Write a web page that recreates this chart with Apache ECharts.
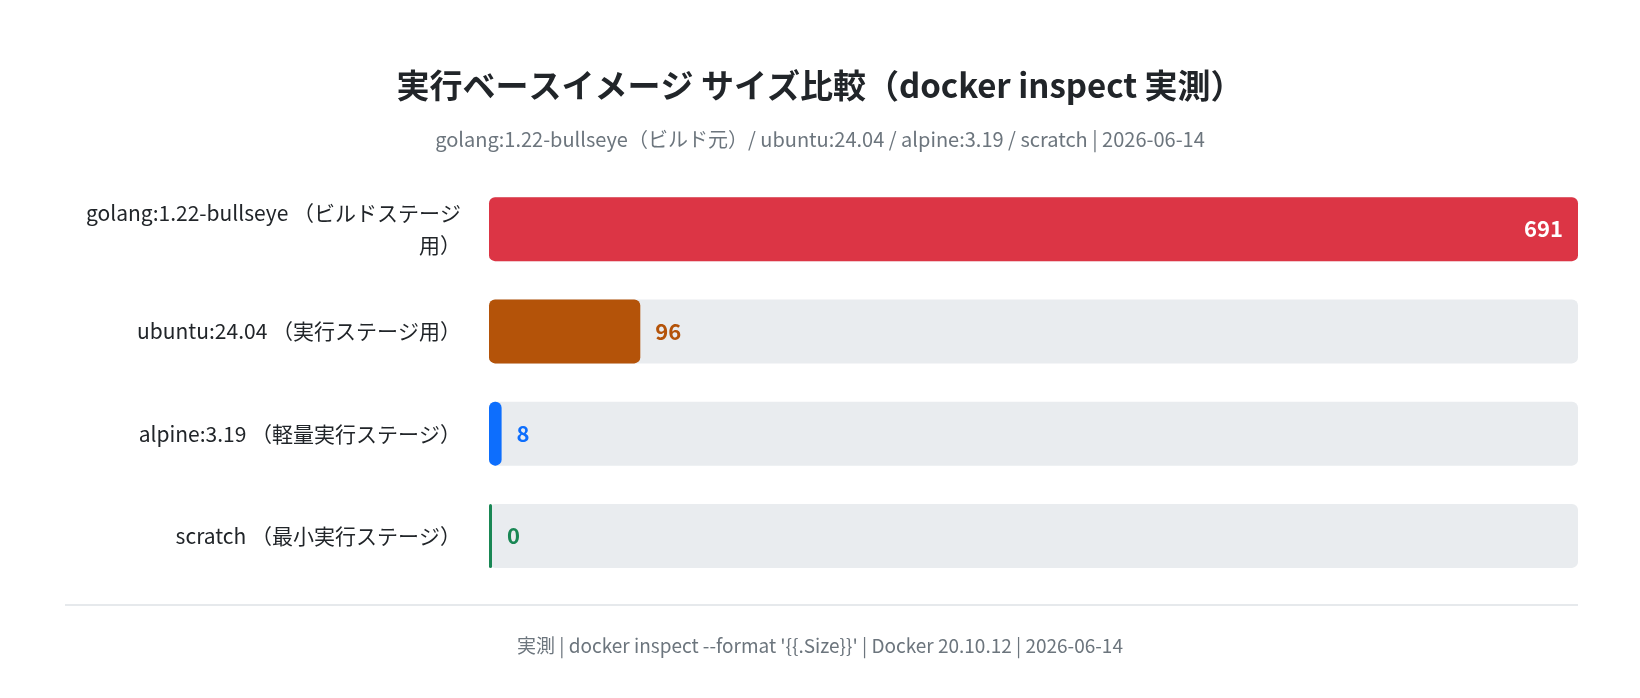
<!DOCTYPE html>
<html><head><meta charset="utf-8">
<script src="https://cdn.jsdelivr.net/npm/echarts@6/dist/echarts.min.js"></script>
<style>html,body{margin:0;background:#fff}#c{width:1640px;height:698px}</style>
</head><body><div id="c"></div>
<script>
const categories = ["golang:1.22-bullseye （ビルドステージ用）","ubuntu:24.04 （実行ステージ用）","alpine:3.19 （軽量実行ステージ）","scratch （最小実行ステージ）"];
const sizes = [691, 96, 8, 0];
const colors = ["#dc3545","#b45309","#0d6efd","#198754"];
const F = '"Noto Sans CJK JP","Noto Sans",sans-serif';
const chart = echarts.init(document.getElementById('c'));
chart.setOption({
  animation:false,
  title:[{text:"実行ベースイメージ サイズ比較（docker inspect 実測）",left:'center',top:64,textStyle:{fontFamily:F,fontSize:33,fontWeight:'bold',color:'#212529'}},
    {text:"golang:1.22-bullseye（ビルド元）/ ubuntu:24.04 / alpine:3.19 / scratch | 2026-06-14",left:'center',top:124,textStyle:{fontFamily:F,fontSize:20,fontWeight:'normal',color:'#6c757d'}},
    {text:"実測 | docker inspect --format '{{.Size}}' | Docker 20.10.12 | 2026-06-14",left:'center',top:631,textStyle:{fontFamily:F,fontSize:19,fontWeight:'normal',color:'#6c757d'}}],
  graphic:[{type:'line',shape:{x1:65,y1:605,x2:1578,y2:605},style:{stroke:'#dee2e6',lineWidth:1.5}}],
  grid:{left:489,right:62,top:178,height:409},
  xAxis:{type:'value',min:0,max:691,show:false},
  yAxis:{type:'category',inverse:true,data:categories,axisLine:{show:false},axisTick:{show:false},
    axisLabel:{margin:28,width:385,overflow:'break',fontFamily:F,fontSize:21,color:'#212529',lineHeight:32,align:'right'}},
  series:[{type:'bar',barWidth:64,barMinHeight:3,showBackground:true,
    backgroundStyle:{color:'#e9ecef',borderRadius:6},
    data:sizes.map((v,i)=>({value:v,itemStyle:{color:colors[i],borderRadius:6},
      label:{show:true,position:i===0?'insideRight':'right',distance:15,color:i===0?'#fff':colors[i],fontFamily:F,fontSize:22,fontWeight:'bold'}}))}]
});
</script></body></html>
